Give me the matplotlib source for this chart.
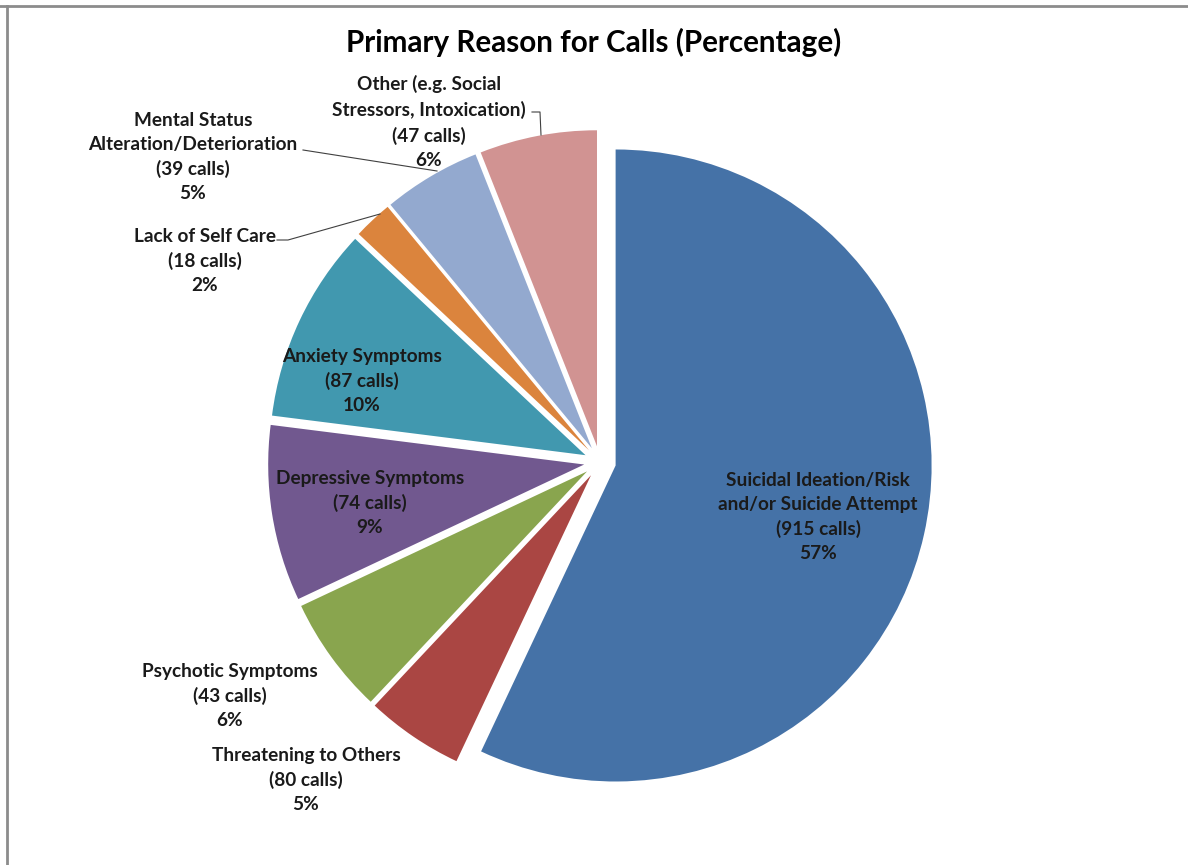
import matplotlib
matplotlib.use("Agg")
import matplotlib.pyplot as plt
from matplotlib.lines import Line2D

# ---- data ----
categories = [
    "Suicidal Ideation/Risk\nand/or Suicide Attempt",
    "Threatening to Others",
    "Psychotic Symptoms",
    "Depressive Symptoms",
    "Anxiety Symptoms",
    "Lack of Self Care",
    "Mental Status\nAlteration/Deterioration",
    "Other (e.g. Social\nStressors, Intoxication)",
]
calls = [915, 80, 43, 74, 87, 18, 39, 47]
percentages = [57, 5, 6, 9, 10, 2, 5, 6]
colors = ["#4572A7", "#AA4643", "#89A54E", "#71588F",
          "#4198AF", "#DB843D", "#93A9CF", "#D19392"]

title = "Primary Reason for Calls (Percentage)"

W, H = 1188, 865
fig = plt.figure(figsize=(W / 100, H / 100), dpi=100)
ax = fig.add_axes([0, 0, 1, 1])

def Y(y):
    return H - y

cx, cy, r = 600, 462, 316
ax.pie(percentages, colors=colors, startangle=90, counterclock=False,
       center=(cx, Y(cy)), radius=r, explode=[16] * len(percentages),
       wedgeprops=dict(linewidth=0), frame=True)
ax.set_xlim(0, W)
ax.set_ylim(0, H)
ax.set_aspect("equal")
ax.axis("off")

FONT = "Lato"
fs = 13.7
# label block centres (pixels)
label_pos = [(818, 517), (306, 780), (230, 696), (370, 503),
             (362, 381), (205, 261), (193, 157), (429, 122)]
for cat, n, p, (x, y) in zip(categories, calls, percentages, label_pos):
    txt = f"{cat}\n({n} calls)\n{p}%"
    ax.text(x, Y(y), txt, ha="center", va="center", fontsize=fs,
            fontweight="bold", family=FONT, color="#1a1a1a",
            linespacing=1.5, multialignment="center")

# leader lines
lc = "#404040"
ax.add_line(Line2D([532, 540, 541], [Y(112), Y(112), Y(135)], color=lc, lw=0.8))
ax.add_line(Line2D([303, 437], [Y(150), Y(171)], color=lc, lw=0.8))
ax.add_line(Line2D([277, 288, 380], [Y(240), Y(240), Y(214)], color=lc, lw=0.8))

ax.text(594, Y(42), title, ha="center", va="center", fontsize=21.3,
        fontweight="bold", family=FONT, color="#000000")

# frame lines (top & left)
fig.add_artist(Line2D([0, 1], [1 - 6 / H, 1 - 6 / H], transform=fig.transFigure,
                      color="#8c8c8c", lw=2))
fig.add_artist(Line2D([7 / W, 7 / W], [0, 1 - 6 / H], transform=fig.transFigure,
                      color="#8c8c8c", lw=2))

fig.savefig("out.png", dpi=100, facecolor="white")
